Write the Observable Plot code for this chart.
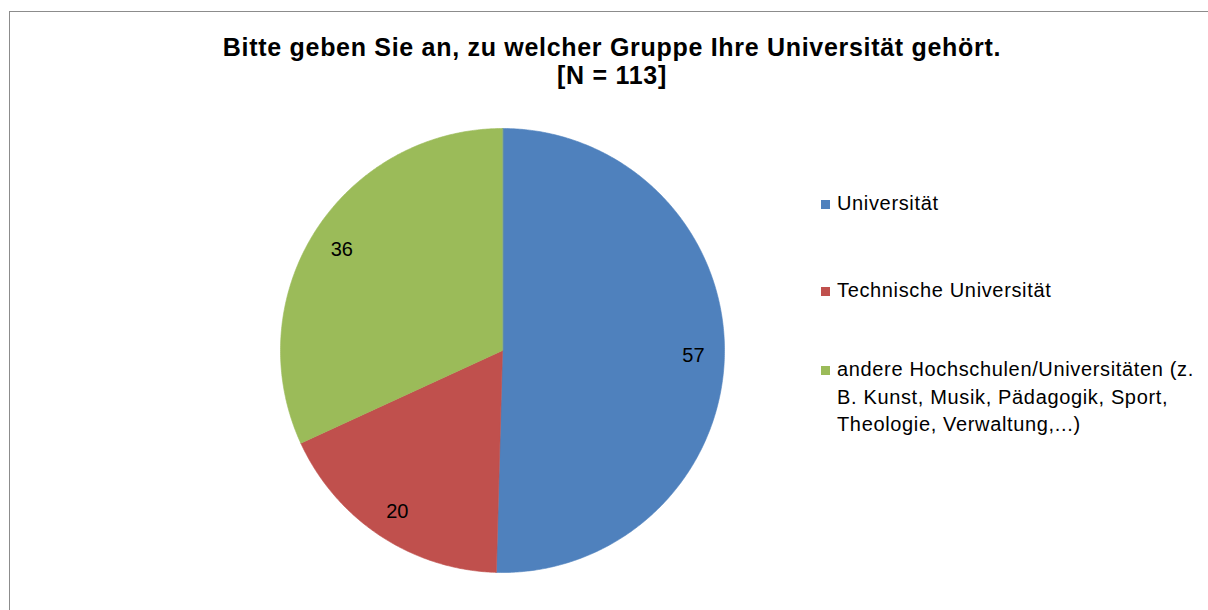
<!DOCTYPE html>
<html>
<head>
<meta charset="utf-8">
<script src="https://cdn.jsdelivr.net/npm/d3@7"></script>
<script src="https://cdn.jsdelivr.net/npm/@observablehq/plot@0.6"></script>
<style>
  html, body { margin: 0; padding: 0; background: #fff; }
  body { width: 1208px; height: 610px; position: relative; overflow: hidden; font-family: Arial, "Liberation Sans", Helvetica, sans-serif; }
  #frame { position: absolute; left: 9px; top: 11px; width: 1220px; height: 640px; border: 1.5px solid #8c8c8c; box-sizing: border-box; }
  #title { position: absolute; left: 0; width: 1224px; top: 33px; text-align: center; font-weight: bold; font-size: 25px; letter-spacing: 0.7px; line-height: 28px; color: #000; }
  #chart { position: absolute; left: 0; top: 0; }
  #legend { position: absolute; left: 821px; top: 0; font-size: 20px; letter-spacing: 0.65px; color: #000; }
  .item { position: absolute; left: 0; width: 380px; }
  .sw { position: absolute; left: 0; width: 9px; height: 9px; }
  .lab { position: absolute; left: 16px; line-height: 27.5px; white-space: nowrap; }
</style>
</head>
<body>
<div id="frame"></div>
<div id="title">Bitte geben Sie an, zu welcher Gruppe Ihre Universität gehört.<br>[N = 113]</div>
<div id="chart"></div>
<div id="legend"></div>
<script>
const categories = ["Universität", "Technische Universität", "andere Hochschulen/Universitäten (z. B. Kunst, Musik, Pädagogik, Sport, Theologie, Verwaltung,...)"];
const values = [57, 20, 36];
const colors = ["#4F81BD", "#C0504D", "#9BBB59"];
const legendLines = [["Universität"], ["Technische Universität"], ["andere Hochschulen/Universitäten (z.", "B. Kunst, Musik, Pädagogik, Sport,", "Theologie, Verwaltung,...)"]];

const data = categories.map((c, i) => ({name: c, value: values[i]}));
const arcs = d3.pie().sort(null).value(d => d.value)(data);

// polygon vertices for each slice, derived from the pie layout (unit circle)
const pts = [];
arcs.forEach(a => {
  const n = Math.max(2, Math.ceil((a.endAngle - a.startAngle) / (Math.PI / 360)));
  pts.push({name: a.data.name, x: 0, y: 0});
  for (let k = 0; k <= n; k++) {
    const t = a.startAngle + (a.endAngle - a.startAngle) * k / n;
    pts.push({name: a.data.name, x: Math.sin(t), y: Math.cos(t)});
  }
});
const labels = arcs.map(a => {
  const m = (a.startAngle + a.endAngle) / 2;
  return {name: a.data.name, value: a.data.value, x: 0.86 * Math.sin(m), y: 0.86 * Math.cos(m)};
});

const cx = 502, cy = 350, r = 222;
const plot = Plot.plot({
  width: 1208,
  height: 610,
  margin: 0,
  x: {domain: [-1, 1], range: [cx - r, cx + r], axis: null},
  y: {domain: [-1, 1], range: [cy + r, cy - r], axis: null},
  color: {domain: categories, range: colors},
  style: {background: "transparent", fontFamily: "Arial, Liberation Sans, sans-serif"},
  marks: [
    Plot.line(pts, {x: "x", y: "y", z: "name", fill: "name", stroke: "name", strokeWidth: 0.6, curve: "linear-closed"}),
    Plot.text(labels, {x: "x", y: "y", dy: 2, text: d => String(d.value), fontSize: 20, fill: "#000"})
  ]
});
document.getElementById("chart").appendChild(plot);

// legend
const legend = document.getElementById("legend");
const tops = [190, 277, 356];
categories.forEach((c, i) => {
  const item = document.createElement("div");
  item.className = "item";
  item.style.top = tops[i] + "px";
  const sw = document.createElement("div");
  sw.className = "sw";
  sw.style.background = colors[i];
  sw.style.top = "10px";
  const lab = document.createElement("div");
  lab.className = "lab";
  lab.innerHTML = legendLines[i].join("<br>");
  item.appendChild(sw);
  item.appendChild(lab);
  legend.appendChild(item);
});
</script>
</body>
</html>
